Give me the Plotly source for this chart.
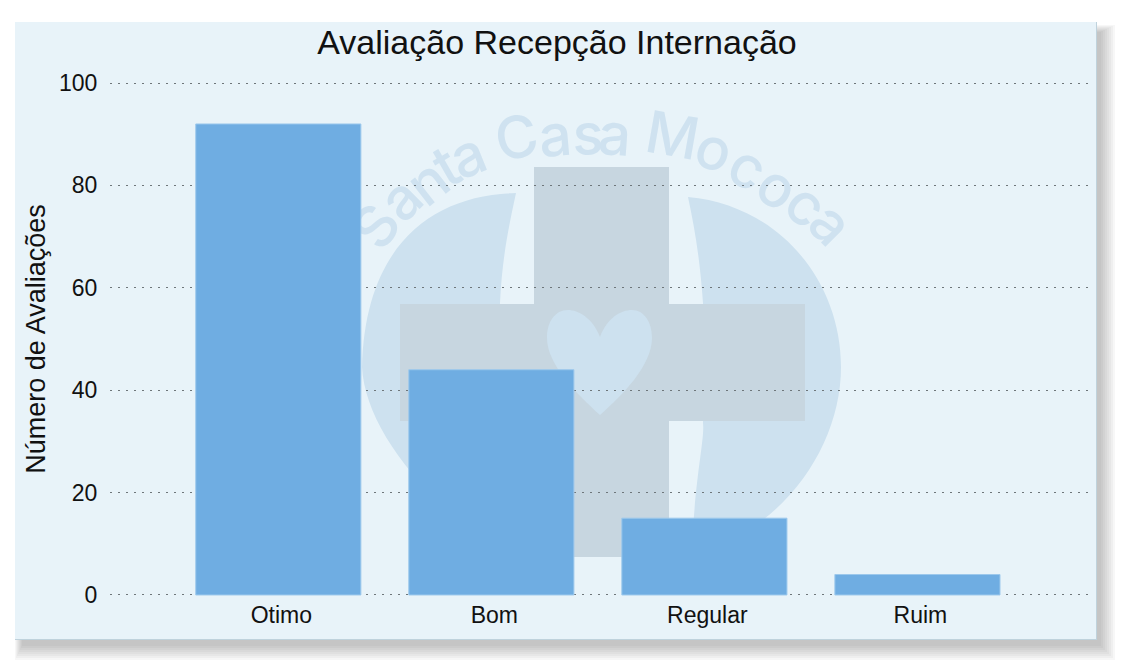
import plotly.graph_objects as go

categories = ["Otimo", "Bom", "Regular", "Ruim"]
values = [92, 44, 15, 4]
y_ticks = [0, 20, 40, 60, 80, 100]
title_text = "Avaliação Recepção Internação"
y_title = "Número de Avaliações"
wm_letters = list("SantaCasaMococa")
wm_x = [374, 399, 426, 445, 467, 516, 555, 588, 615, 673, 715, 749, 779, 808, 833]
wm_y = [225, 197, 180, 164, 153, 135, 133, 132, 132, 133, 147, 165, 185, 203, 222]
wm_rot = [-55, -45, -38, -30, -22, -12, -5, 0, 4, 10, 20, 28, 35, 40, 45]

W, H = 1126, 671
L, R, T, B = 110, 36, 82, 75
PANEL = "#E8F3F9"


def px(x):
    return (x - L) / (W - L - R)


def py(y):
    return 1 - (y - T) / (H - T - B)


def rect(x0, y0, x1, y1, fill, **kw):
    return dict(type="rect", xref="paper", yref="paper", x0=px(x0), x1=px(x1),
                y0=py(y1), y1=py(y0), fillcolor=fill, line=dict(width=0), layer="below", **kw)


def path(points, fill):
    s = ""
    for cmd, *coords in points:
        s += cmd + " " + " ".join(
            f"{px(c[0]):.5f},{py(c[1]):.5f}" for c in coords) + " "
    return dict(type="path", xref="paper", yref="paper", path=s + "Z", fillcolor=fill,
                line=dict(width=0), layer="below")


shapes = []
# soft drop shadow of the panel
for g in [10, 8, 6, 4, 2, 0, -2, -4]:
    shapes.append(rect(20 - g / 2, 30 - g / 2, 1105 + g, 650 + g, "rgba(80,80,80,0.045)"))
shapes.append(rect(15, 22, 1097, 640, "#BFD2DC"))
shapes.append(rect(15, 22, 1096, 639, PANEL))

CIRC = "#CDE1EF"
shapes.append(path([("M", (516, 193)), ("C", (432, 195), (365, 245), (362, 367)),
                    ("C", (365, 425), (420, 500), (508, 555)),
                    ("C", (503, 480), (500, 440), (500, 420)), ("L", (500, 303)),
                    ("C", (502, 260), (508, 230), (516, 193))], CIRC))
shapes.append(path([("M", (688, 197)), ("C", (778, 205), (841, 280), (841, 367)),
                    ("C", (841, 445), (785, 530), (692, 555)),
                    ("C", (694, 480), (705, 440), (703, 423)), ("L", (703, 303)),
                    ("C", (700, 260), (695, 230), (688, 197))], CIRC))
CROSS = "#C7D6E0"
shapes.append(rect(534, 167, 669, 557, CROSS))
shapes.append(rect(400, 304, 805, 421, CROSS))
shapes.append(path([("M", (600, 337)), ("C", (593, 318), (578, 310), (568, 310)),
                    ("C", (555, 310), (547, 322), (547, 338)),
                    ("C", (547, 365), (578, 395), (600, 415)),
                    ("C", (623, 395), (652, 365), (652, 338)),
                    ("C", (652, 322), (644, 310), (632, 310)),
                    ("C", (621, 310), (607, 318), (600, 337))], CIRC))

for ch, x, y, r in zip(wm_letters, wm_x, wm_y, wm_rot):
    shapes.append(dict(type="rect", xref="paper", yref="paper",
                       x0=px(x - 30), x1=px(x + 30), y0=py(y + 30), y1=py(y - 30),
                       fillcolor="rgba(0,0,0,0)", line=dict(width=0), layer="below",
                       label=dict(text=ch, textangle=r, textposition="middle center",
                                  font=dict(family="Inter", size=58, weight=500, color="#CFE2F0"))))

fig = go.Figure(go.Bar(
    x=categories, y=values, width=0.775,
    marker=dict(color="#6FADE2", line=dict(color="#9CC8EC", width=1)),
    hoverinfo="x+y",
))

FONT = "Liberation Sans, Arial, sans-serif"
fig.update_layout(
    width=W, height=H,
    margin=dict(l=L, r=R, t=T, b=B, autoexpand=False),
    paper_bgcolor="white", plot_bgcolor="rgba(0,0,0,0)",
    font=dict(family=FONT, color="#111111"),
    showlegend=False,
    shapes=shapes,
    title=dict(text=title_text, font=dict(size=34, color="#111111", family=FONT),
               xref="container", yref="container", x=557 / W, y=1 - 42 / H,
               xanchor="center", yanchor="middle"),
    xaxis=dict(type="category", range=[-0.79, 3.81], showgrid=False, zeroline=False,
               showline=False, ticks="outside", ticklen=1, tickcolor="rgba(0,0,0,0)",
               tickfont=dict(size=23), ticklabelshift=3, ticklabelstandoff=-3),
    yaxis=dict(range=[-0.2, 100.2], tickvals=y_ticks, showgrid=True, gridcolor="#6E767A",
               griddash="2px,6px", gridwidth=1.4, zeroline=False, showline=False,
               ticks="outside", ticklen=7, tickcolor="rgba(0,0,0,0)",
               tickfont=dict(size=23),
               title=dict(text=y_title, font=dict(size=27), standoff=5)),
)

fig.write_html("out.html", config=dict(displayModeBar=False),
               post_script="document.body.style.margin='0';document.body.style.overflow='hidden';")
